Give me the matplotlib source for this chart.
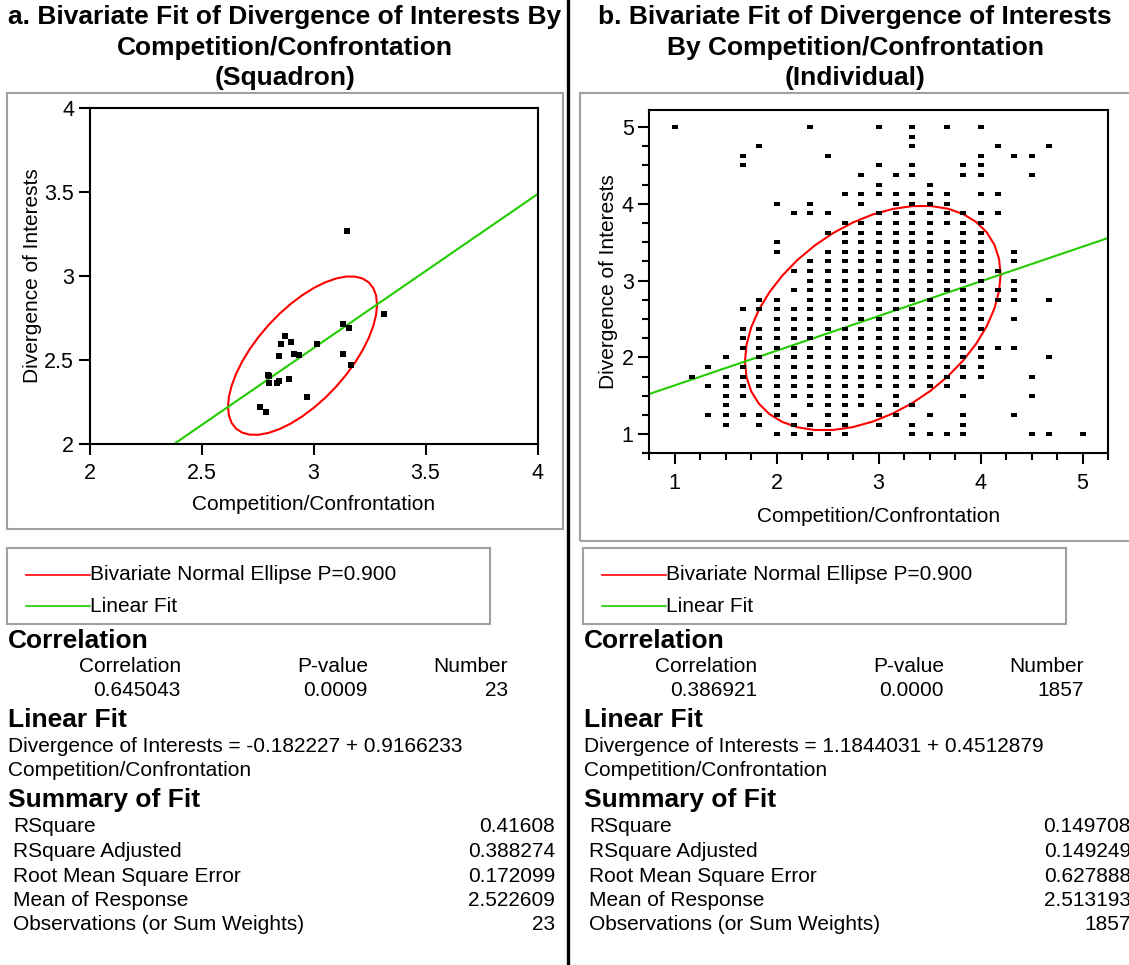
import numpy as np
import matplotlib
matplotlib.use('Agg')
import matplotlib.pyplot as plt
from matplotlib.patches import Rectangle
from matplotlib.lines import Line2D
from matplotlib.ticker import MultipleLocator

plt.rcParams['font.family'] = ['Liberation Sans', 'DejaVu Sans']

# ---- panel a: squadron means (23 obs) ----
x_a = [3.149, 3.314, 3.131, 3.159, 2.871, 2.898, 2.853, 3.014, 2.844, 2.914, 2.937, 3.131,
       3.166, 2.799, 2.800, 2.800, 2.844, 2.835, 2.889, 2.969, 2.763, 2.790, 2.845]
y_a = [3.263, 2.771, 2.709, 2.687, 2.639, 2.602, 2.590, 2.590, 2.518, 2.530, 2.524, 2.530,
       2.470, 2.410, 2.400, 2.362, 2.374, 2.358, 2.386, 2.278, 2.218, 2.188, 2.370]
fit_a = (-0.182227, 0.9166233)          # intercept, slope
ell_mean_a = (2.951, 2.523)
ell_sd_a = (0.155, 0.220)
ell_r_a = 0.645043

# ---- panel b: individuals (responses on a grid) ----
x_levels_b = [1.0, 1.167, 1.333, 1.5, 1.667, 1.833, 2.0, 2.167, 2.333, 2.5, 2.667, 2.833, 3.0,
              3.167, 3.333, 3.5, 3.667, 3.833, 4.0, 4.167, 4.333, 4.5, 4.667, 4.833, 5.0]
y_levels_b = [5.0, 4.875, 4.75, 4.625, 4.5, 4.375, 4.25, 4.125, 4.0, 3.875, 3.75, 3.625, 3.5,
              3.375, 3.25, 3.125, 3.0, 2.875, 2.75, 2.625, 2.5, 2.375, 2.25, 2.125, 2.0,
              1.875, 1.75, 1.625, 1.5, 1.375, 1.25, 1.125, 1.0]
# occupied x-level indices for each y level (top to bottom)
occupied_b = [
    [0, 8, 12, 14, 16, 18],
    [14],
    [5, 14, 19, 22],
    [4, 9, 18, 20, 21],
    [4, 12, 14, 17, 18],
    [11, 13, 14, 17, 18, 21],
    [12, 15],
    [*range(10, 17), 18, 19],
    [6, 8, 11, *range(13, 17)],
    [7, 8, 9, *range(12, 20)],
    [*range(10, 19)],
    [*range(9, 16), 17, 18],
    [6, *range(10, 19)],
    [6, *range(9, 19), 20],
    [*range(8, 19), 20],
    [*range(7, 20)],
    [*range(8, 19), 20],
    [*range(7, 21)],
    [5, 6, *range(8, 21), 22],
    [*range(4, 19)],
    [*range(6, 19), 20],
    [*range(4, 19)],
    [*range(4, 18)],
    [*range(4, 21)],
    [3, *range(5, 19), 22],
    [2, *range(4, 19)],
    [1, *range(3, 19), 21],
    [*range(2, 17)],
    [3, 4, *range(6, 12), 13, 17, 21],
    [3, 6, *range(8, 15)],
    [*range(2, 8), 9, 10, 12, 13, 15, 17, 20],
    [3, 5, 7, 8, 9, 10, 12, 14, 17],
    [*range(6, 11), 14, 15, 16, 17, 21, 22, 24],
]
fit_b = (1.1844031, 0.4512879)
ell_mean_b = (2.944, 2.513)
ell_sd_b = (0.584, 0.681)
ell_r_b = 0.386921

titles = [["a. Bivariate Fit of Divergence of Interests By", "Competition/Confrontation", "(Squadron)"],
          ["b. Bivariate Fit of Divergence of Interests", "By Competition/Confrontation", "(Individual)"]]
corr_vals = [["0.645043", "0.0009", "23"], ["0.386921", "0.0000", "1857"]]
equations = ["Divergence of Interests = -0.182227 + 0.9166233",
             "Divergence of Interests = 1.1844031 + 0.4512879"]
summary_labels = ["RSquare", "RSquare Adjusted", "Root Mean Square Error",
                  "Mean of Response", "Observations (or Sum Weights)"]
summary_vals = [["0.41608", "0.388274", "0.172099", "2.522609", "23"],
                ["0.149708", "0.149249", "0.627888", "2.513193", "1857"]]

RED = '#ff0000'
GREEN = '#22cc00'
GRAY = '#a0a0a0'

W, H = 1129, 965
fig = plt.figure(figsize=(W / 100, H / 100), dpi=100)


def fx(x):
    return x / W


def fy(y):
    return 1 - y / H


def rect(l, t, r, b):
    return [l / W, 1 - b / H, (r - l) / W, (b - t) / H]


def box(l, t, r, b, color=GRAY, lw=1.5):
    fig.add_artist(Rectangle((fx(l), fy(b)), (r - l) / W, (b - t) / H, transform=fig.transFigure,
                             fill=False, edgecolor=color, linewidth=lw))


def hline(x0, x1, y, color, lw=1.2):
    fig.add_artist(Line2D([fx(x0), fx(x1)], [fy(y), fy(y)], transform=fig.transFigure,
                          color=color, linewidth=lw))


def ellipse(mean, sd, r, p=0.9, n=41):
    c = np.sqrt(-2 * np.log(1 - p))
    t = np.linspace(0, 2 * np.pi, n)
    ex = mean[0] + c * sd[0] * np.cos(t)
    ey = mean[1] + c * sd[1] * (r * np.cos(t) + np.sqrt(1 - r * r) * np.sin(t))
    return ex, ey


sq = [(-1.2, -1), (1.2, -1), (1.2, 1), (-1.2, 1), (-1.2, -1)]


def style_axes(ax):
    for s in ax.spines.values():
        s.set_linewidth(1.5)
    ax.tick_params(which='major', direction='out', length=8, width=1.5, labelsize=15.5, pad=3)
    ax.tick_params(which='minor', direction='out', length=5, width=1.5)
    ax.tick_params(axis='x', which='major', pad=6)
    ax.set_xlabel('Competition/Confrontation', fontsize=15)
    ax.set_ylabel('Divergence of Interests', fontsize=15)


# panel a plot
ax1 = fig.add_axes(rect(89.5, 107.5, 537.5, 443.5))
ex, ey = ellipse(ell_mean_a, ell_sd_a, ell_r_a)
ax1.plot(ex, ey, color=RED, lw=1.5)
xs = np.array([2.0, 4.0])
ax1.plot(xs, fit_a[0] + fit_a[1] * xs, color=GREEN, lw=1.5)
ax1.plot(x_a, y_a, ls='none', marker=sq, ms=5.0, mew=0, color='black')
ax1.set_xlim(2, 4)
ax1.set_ylim(2, 4)
ax1.set_xticks([2, 2.5, 3, 3.5, 4], ['2', '2.5', '3', '3.5', '4'])
ax1.set_yticks([2, 2.5, 3, 3.5, 4], ['2', '2.5', '3', '3.5', '4'])
style_axes(ax1)
ax1.xaxis.set_label_coords(0.5, -0.153)
ax1.yaxis.set_label_coords(-0.106, 0.5)

# panel b plot
ax2 = fig.add_axes(rect(649, 110, 1108, 453.5))
bx, by = [], []
for yv, cols in zip(y_levels_b, occupied_b):
    for k in cols:
        bx.append(x_levels_b[k])
        by.append(yv)
ex, ey = ellipse(ell_mean_b, ell_sd_b, ell_r_b)
ax2.plot(ex, ey, color=RED, lw=1.5)
xs = np.array([0.75, 5.25])
ax2.plot(xs, fit_b[0] + fit_b[1] * xs, color=GREEN, lw=1.5)
ax2.plot(bx, by, ls='none', marker=sq, ms=4.3, mew=0, color='black')
ax2.set_xlim(0.75, 5.25)
ax2.set_ylim(0.75, 5.22)
ax2.set_xticks([1, 2, 3, 4, 5], ['1', '2', '3', '4', '5'])
ax2.set_yticks([1, 2, 3, 4, 5], ['1', '2', '3', '4', '5'])
ax2.xaxis.set_minor_locator(MultipleLocator(0.25))
ax2.yaxis.set_minor_locator(MultipleLocator(0.25))
style_axes(ax2)
ax2.xaxis.set_label_coords(0.5, -0.156)
ax2.yaxis.set_label_coords(-0.068, 0.5)

# frames, divider
box(7, 93, 563, 529)
box(580, 93, 1140, 541)
fig.add_artist(Line2D([fx(568), fx(568)], [0, 1], transform=fig.transFigure, color='black', lw=2.4))

for i, dx in enumerate([0, 576]):
    for j, line in enumerate(titles[i]):
        fig.text(fx(285 + dx * 0.99), fy(17 + 30.5 * j), line, ha='center', va='center',
                 fontsize=19, fontweight='bold')
    # legend
    box(7 + dx, 548, 490 + dx, 624)
    hline(26 + dx, 90 + dx, 575, RED)
    hline(26 + dx, 90 + dx, 606, GREEN)
    fig.text(fx(90 + dx), fy(575), 'Bivariate Normal Ellipse P=0.900', va='center', fontsize=15)
    fig.text(fx(90 + dx), fy(606), 'Linear Fit', va='center', fontsize=15)
    # correlation
    fig.text(fx(8 + dx), fy(641), 'Correlation', va='center', fontsize=19, fontweight='bold')
    for col, head, val in zip([181, 368, 508], ['Correlation', 'P-value', 'Number'], corr_vals[i]):
        fig.text(fx(col + dx), fy(666), head, ha='right', va='center', fontsize=15)
        fig.text(fx(col + dx), fy(690), val, ha='right', va='center', fontsize=15)
    # linear fit
    fig.text(fx(8 + dx), fy(720), 'Linear Fit', va='center', fontsize=19, fontweight='bold')
    fig.text(fx(8 + dx), fy(746), equations[i], va='center', fontsize=15)
    fig.text(fx(8 + dx), fy(770), 'Competition/Confrontation', va='center', fontsize=15)
    # summary
    fig.text(fx(8 + dx), fy(800), 'Summary of Fit', va='center', fontsize=19, fontweight='bold')
    for r, (lab, val) in enumerate(zip(summary_labels, summary_vals[i])):
        fig.text(fx(13 + dx), fy(827 + 24.5 * r), lab, va='center', fontsize=15)
        fig.text(fx(555 + dx), fy(827 + 24.5 * r), val, ha='right', va='center', fontsize=15)

fig.savefig('out.png', dpi=100)
